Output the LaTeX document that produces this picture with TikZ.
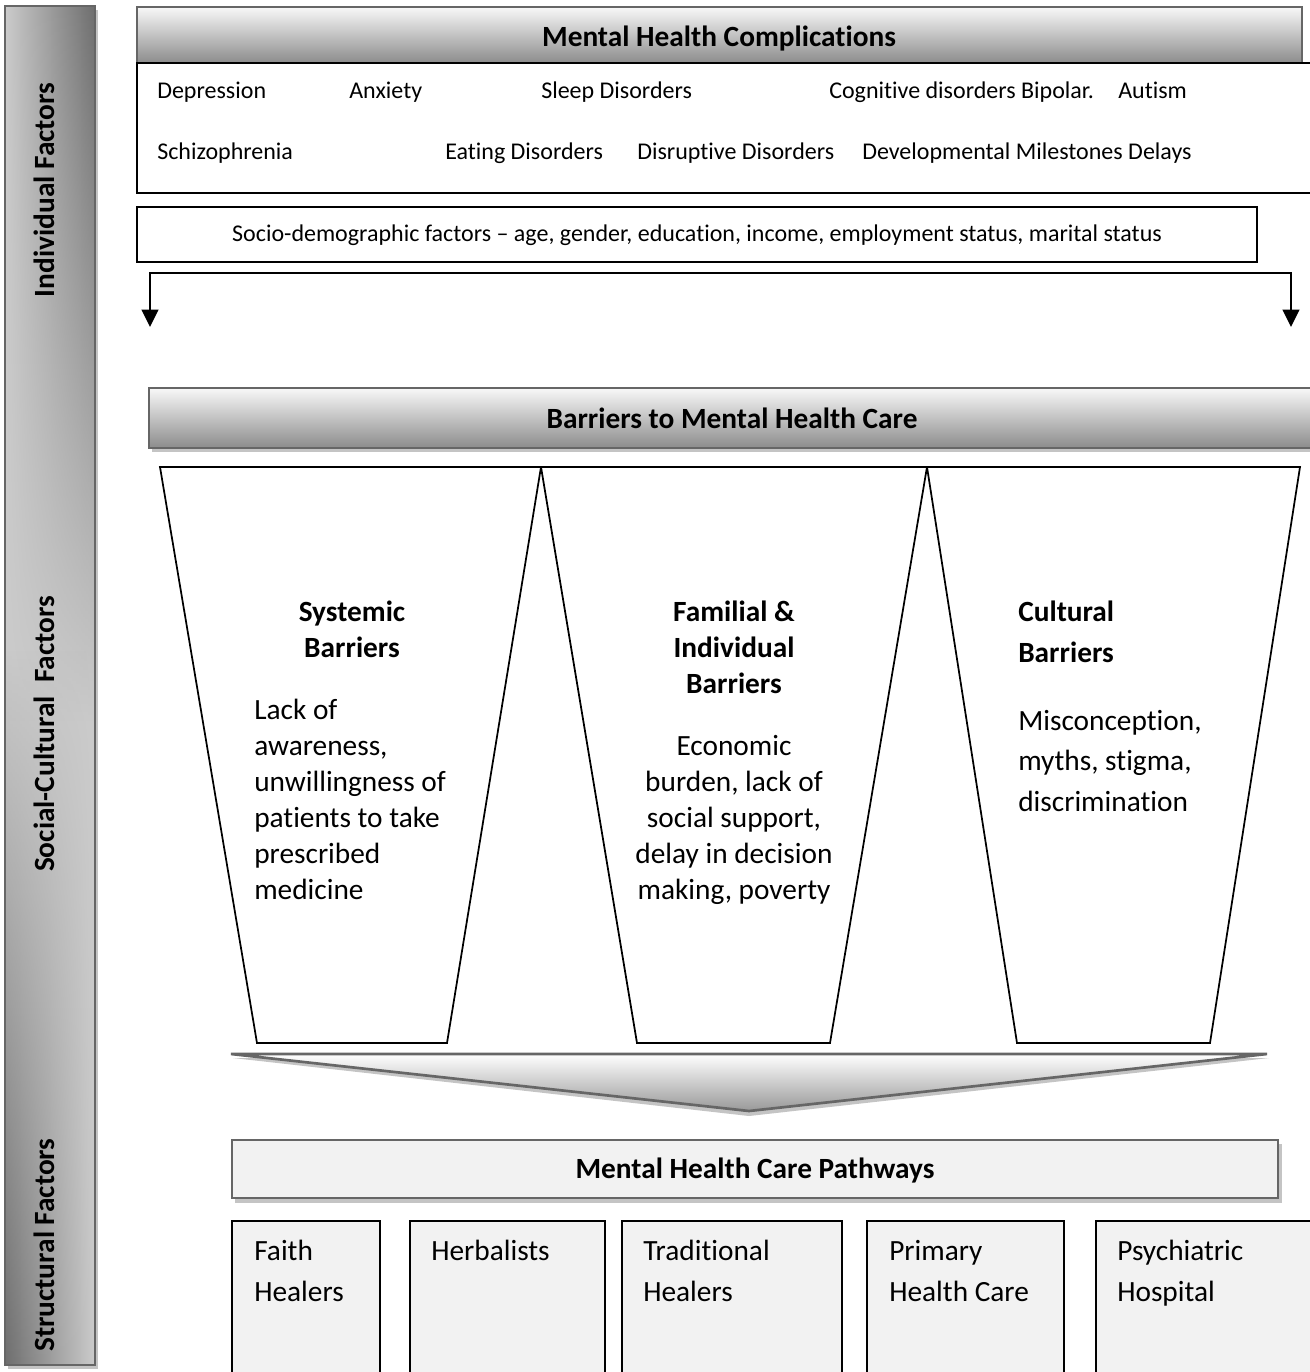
\documentclass[tikz,border=0pt]{standalone}
\usepackage{fontspec}
\setmainfont{Carlito}[Ligatures=NoCommon, RawFeature={-liga;-clig;-dlig;-calt}]
\usetikzlibrary{arrows.meta,fadings,fit}
\definecolor{barlight}{HTML}{CBCBCB}
\definecolor{bardark}{HTML}{6E6E6E}
\definecolor{gtop}{HTML}{F8F8F8}
\definecolor{gbot}{HTML}{8C8C8C}
\definecolor{edgegray}{HTML}{666666}
\definecolor{shadowgray}{HTML}{C4C4C4}
\definecolor{panel}{HTML}{F2F2F2}
\tikzfading[name=fadetop, top color=transparent!0, bottom color=transparent!100]
\tikzfading[name=fadebot, top color=transparent!100, bottom color=transparent!0]
\newcommand\smallf{\fontsize{18}{22}\selectfont}
\newcommand\bigf{\fontsize{22}{27}\selectfont}
\newcommand\bigfw{\fontsize{22}{30.75}\selectfont}
\newcommand\bigfv{\fontsize{22}{30.4}\selectfont}
\newcommand\zk{\kern0pt }
\begin{document}
\begin{tikzpicture}[x=0.75pt,y=-0.75pt,
  line/.style={draw=black, line width=1.3pt},
  txt/.style={inner sep=0pt, font=\smallf, anchor=base west},
  bigtxt/.style={inner sep=0pt, font=\bigf},
  headtxt/.style={inner sep=0pt, font=\bigf\bfseries, anchor=base},
  sidetxt/.style={inner sep=0pt, font=\bigf\bfseries, anchor=base, rotate=90},
  gradbar/.style={top color=gtop, bottom color=gbot, draw=edgegray, line width=1.3pt},
  pathbox/.style={fill=panel, draw=black, line width=1.3pt},
  frame/.style={draw=black, line width=1.3pt},
  arr/.style={draw=black, line width=1.5pt, {Triangle[width=12.5pt,length=13pt]}-{Triangle[width=12.5pt,length=13pt]}}
]
\useasboundingbox (0,0) rectangle (1310,1372);
\clip (0,0) rectangle (1310,1372);
\fill[white] (0,0) rectangle (1310,1372);

% ---------- left side bar ----------
\fill[shadowgray] (8,10) rectangle (98,1369);
\node[fit={(5,6) (95,1365)}, inner sep=0pt, fill=barlight] (sidebar) {};
\shade[left color=barlight, right color=bardark, path fading=fadetop] (5,6) rectangle (95,720);
\shade[left color=bardark, right color=barlight, path fading=fadebot] (5,650) rectangle (95,1365);
\draw[edgegray, line width=1.2pt] (sidebar.north west) rectangle (sidebar.south east);
\node[sidetxt] (lblInd) at (55,190) {Individual Factors};
\node[sidetxt] (lblSoc) at (55,734) {Social-Cultural\ \ Factors};
\node[sidetxt] (lblStr) at (55,1245) {Structural Factors};

% ---------- mental health complications ----------
\node[fit={(137,7) (1302,63)}, inner sep=0pt, gradbar] (mhc) {};
\node[headtxt] (mhcT) at (719,46) {Mental Health Complicat\zk ions};
\node[fit={(137,63) (1340,193)}, inner sep=0pt, frame] (compbox) {};
\node[txt] (dep) at (157,98) {Depression};
\node[txt] (anx) at (349,98) {Anxiety};
\node[txt] (sleep) at (541,98) {Sleep Disorders};
\node[txt] (cog) at (829,98) {Cognit\zk ive disorders Bipolar.};
\node[txt] (aut) at (1118,98) {Autism};
\node[txt] (schiz) at (157,159) {Schizophrenia};
\node[txt] (eat) at (445,159) {Eating Disorders};
\node[txt] (disr) at (637,159) {Disrupt\zk ive Disorders};
\node[txt] (devel) at (862,159) {Developmental Milestones Delays};

% ---------- socio-demographic ----------
\node[fit={(137,207) (1257,262)}, inner sep=0pt, frame] (socio) {};
\node[txt, anchor=base] (socioT) at (697,241) {Socio-demographic factors – age, gender, educat\zk ion, income, employment status, marital status};

% ---------- bracket arrow ----------
\coordinate (brL) at (150,273);
\coordinate (brR) at (1291,273);
\coordinate (tipL) at (150,327);
\coordinate (tipR) at (1291,327);
\draw[arr] (tipL) -- (brL) -- (brR) -- (tipR);

% ---------- barriers bar ----------
\fill[shadowgray] (152,392) rectangle (1340,452);
\node[fit={(149,388) (1340,448)}, inner sep=0pt, gradbar] (barr) {};
\node[headtxt] (barrT) at (732,428) {Barriers to Mental Health Care};

% ---------- trapezoids ----------
\coordinate (a1) at (160,467);
\coordinate (a2) at (541,467);
\coordinate (a3) at (927,467);
\coordinate (a4) at (1300,467);
\coordinate (b1) at (257,1043);
\coordinate (b2) at (447,1043);
\coordinate (b3) at (637,1043);
\coordinate (b4) at (830,1043);
\coordinate (b5) at (1017,1043);
\coordinate (b6) at (1210,1043);
\draw[line, line join=miter] (a1) -- (a2) -- (b2) -- (b1) -- cycle;
\draw[line, line join=miter] (a2) -- (a3) -- (b4) -- (b3) -- cycle;
\draw[line, line join=miter] (a3) -- (a4) -- (b6) -- (b5) -- cycle;

\node[bigtxt, font=\bigf\bfseries, align=center, anchor=north] (sysH) at (352,595.8) {\strut Systemic\\Barriers};
\node[bigtxt, align=left, anchor=north west] (sysB) at (254,693.8) {\strut Lack of\\awareness,\\unwillingness of\\pat\zk ients to take\\prescribed\\medicine};
\node[bigtxt, font=\bigf\bfseries, align=center, anchor=north] (famH) at (734,595.8) {\strut Familial \&\\Individual\\Barriers};
\node[bigtxt, align=center, anchor=north] (famB) at (734,729.8) {\strut Economic\\burden, lack of\\social support,\\delay in decision\\making, poverty};
\node[bigtxt, font=\bigfw\bfseries, align=left, anchor=north west] (culH) at (1018,592.3) {\strut Cultural\\Barriers};
\node[bigtxt, font=\bigfv, align=left, anchor=north west] (culB) at (1018,701.6) {\strut Misconcept\zk ion,\\myths, stigma,\\discrimination};

% ---------- chevron ----------
\coordinate (cvL) at (231,1054);
\coordinate (cvR) at (1267,1054);
\coordinate (cvP) at (749,1111);
\fill[shadowgray] (233,1058) -- (1269,1058) -- (749,1116) -- cycle;
\path[draw=edgegray, line width=2pt, line join=miter, top color=white, bottom color=black!40] (cvL) -- (cvR) -- (cvP) -- cycle;

% ---------- pathways ----------
\fill[shadowgray] (235,1144) rectangle (1282,1203);
\node[fit={(232,1140) (1278,1198)}, inner sep=0pt, fill=panel, draw=edgegray, line width=1.8pt] (mhcp) {};
\node[headtxt] (mhcpT) at (755,1178) {Mental Health Care Pathways};

\node[fit={(232,1221) (380,1400)}, inner sep=0pt, pathbox] (faith) {};
\node[fit={(410,1221) (605,1400)}, inner sep=0pt, pathbox] (herb) {};
\node[fit={(622,1221) (842,1400)}, inner sep=0pt, pathbox] (trad) {};
\node[fit={(867,1221) (1064,1400)}, inner sep=0pt, pathbox] (prim) {};
\node[fit={(1096,1221) (1340,1400)}, inner sep=0pt, pathbox] (psych) {};
\node[bigtxt, font=\bigfw, align=left, anchor=north west] (faithT) at (254,1231.3) {\strut Faith\\Healers};
\node[bigtxt, font=\bigfw, align=left, anchor=north west] (herbT) at (431,1231.3) {\strut Herbalists};
\node[bigtxt, font=\bigfw, align=left, anchor=north west] (tradT) at (643,1231.3) {\strut Tradit\zk ional\\Healers};
\node[bigtxt, font=\bigfw, align=left, anchor=north west] (primT) at (889,1231.3) {\strut Primary\\Health Care};
\node[bigtxt, font=\bigfw, align=left, anchor=north west] (psychT) at (1117,1231.3) {\strut Psychiatric\\Hospital};
\end{tikzpicture}
\end{document}
